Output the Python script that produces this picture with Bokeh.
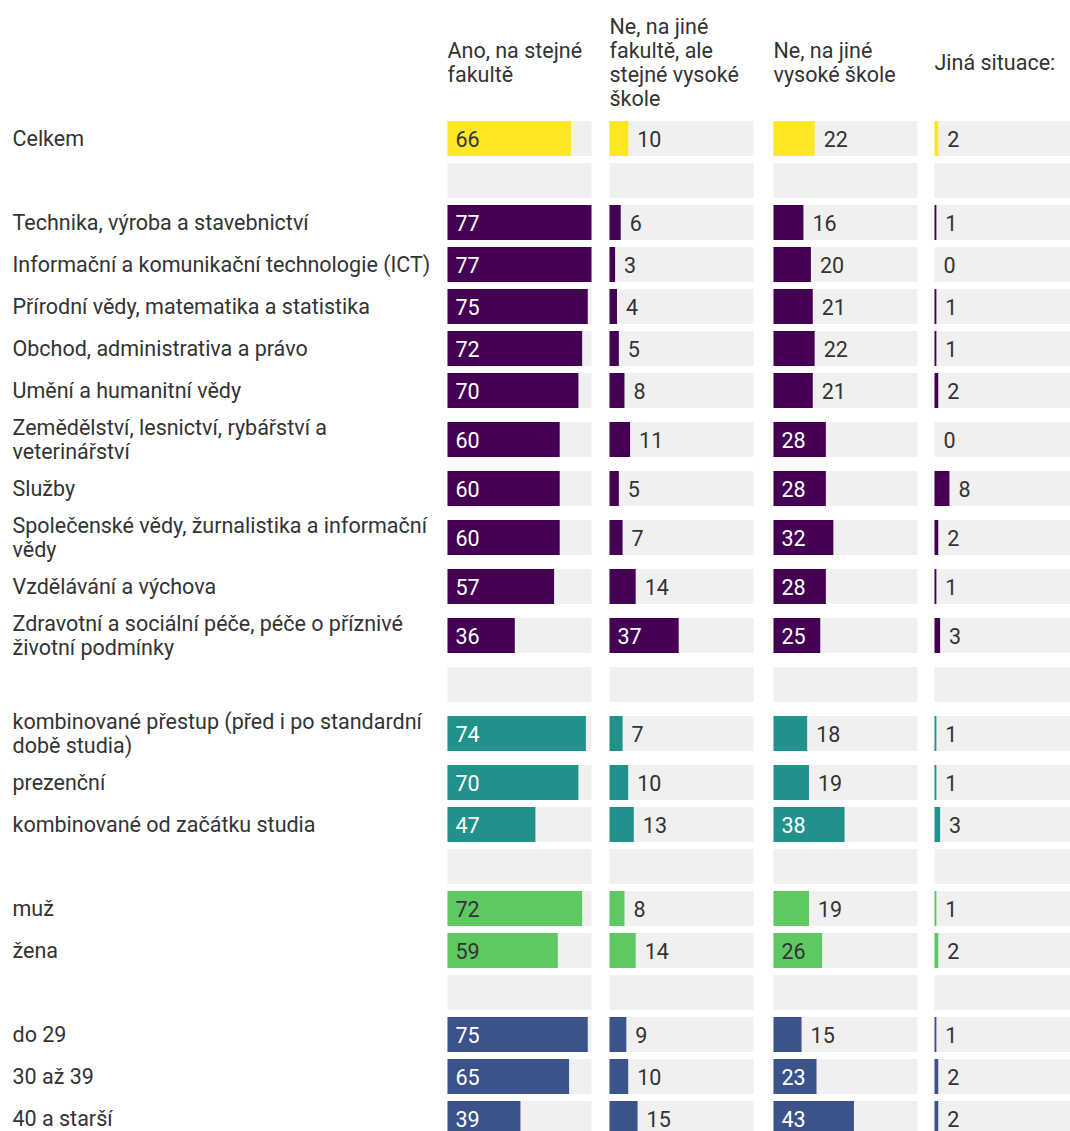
from bokeh.plotting import figure
from bokeh.models import ColumnDataSource, Range1d
from bokeh.embed import file_html
from bokeh.resources import INLINE
from bokeh.core.properties import value

# ---------------- data ----------------
column_titles = [
    "Ano, na stejné\nfakultě",
    "Ne, na jiné\nfakultě, ale\nstejné vysoké\nškole",
    "Ne, na jiné\nvysoké škole",
    "Jiná situace:",
]

total_labels = ["Celkem"]
total_values = [[66, 10, 22, 2]]

field_labels = [
    "Technika, výroba a stavebnictví",
    "Informační a komunikační technologie (ICT)",
    "Přírodní vědy, matematika a statistika",
    "Obchod, administrativa a právo",
    "Umění a humanitní vědy",
    "Zemědělství, lesnictví, rybářství a\nveterinářství",
    "Služby",
    "Společenské vědy, žurnalistika a informační\nvědy",
    "Vzdělávání a výchova",
    "Zdravotní a sociální péče, péče o příznivé\nživotní podmínky",
]
field_values = [
    [77, 6, 16, 1],
    [77, 3, 20, 0],
    [75, 4, 21, 1],
    [72, 5, 22, 1],
    [70, 8, 21, 2],
    [60, 11, 28, 0],
    [60, 5, 28, 8],
    [60, 7, 32, 2],
    [57, 14, 28, 1],
    [36, 37, 25, 3],
]

form_labels = [
    "kombinované přestup (před i po standardní\ndobě studia)",
    "prezenční",
    "kombinované od začátku studia",
]
form_values = [
    [74, 7, 18, 1],
    [70, 10, 19, 1],
    [47, 13, 38, 3],
]

sex_labels = ["muž", "žena"]
sex_values = [
    [72, 8, 19, 1],
    [59, 14, 26, 2],
]

age_labels = ["do 29", "30 až 39", "40 a starší"]
age_values = [
    [75, 9, 15, 1],
    [65, 10, 23, 2],
    [39, 15, 43, 2],
]

# ---------------- styles / layout ----------------
groups = [
    (total_labels, total_values, "#FDE725", "#333333"),
    (field_labels, field_values, "#440154", "#ffffff"),
    (form_labels, form_values, "#21918C", "#ffffff"),
    (sex_labels, sex_values, "#5EC962", "#333333"),
    (age_labels, age_values, "#3B528B", "#ffffff"),
]

FONT = "Roboto"
FS = "21.5px"
LH = 0.95
TEXT_COLOR = "#333333"
BG_COLOR = "#f0f0f0"
col_x0 = [447, 609, 773, 934]
col_w = 144.0
scale_max = 77.0
bar_h = 35
row_h1 = 42
row_extra = 14
inside_min = 23

W, H = 1070, 1131
p = figure(width=W, height=H, output_backend="svg", toolbar_location=None,
           x_range=Range1d(0, W), y_range=Range1d(H, 0),
           x_axis_location=None, y_axis_location=None, min_border=0)
p.grid.visible = False
p.outline_line_color = None
p.background_fill_color = "white"
p.border_fill_color = "white"

# rows
rows = []  # (label, values, color, inside_text_color)
for gi, (labs, vals, col, tcol) in enumerate(groups):
    if gi > 0:
        rows.append(("", None, None, None))
    for l, v in zip(labs, vals):
        rows.append((l, v, col, tcol))

y = 117
bg = dict(left=[], right=[], y=[])
bars = dict(left=[], right=[], y=[], color=[])
vlab = dict(x=[], y=[], text=[], color=[])
rlab = dict(x=[], y=[], text=[])
for label, vals, col, tcol in rows:
    n_lines = label.count("\n") + 1 if label else 1
    h = row_h1 + row_extra * (n_lines - 1)
    yc = y + h / 2
    for ci in range(4):
        bg["left"].append(col_x0[ci])
        bg["right"].append(col_x0[ci] + col_w)
        bg["y"].append(yc)
    if vals is not None:
        rlab["x"].append(12)
        rlab["y"].append(yc)
        rlab["text"].append(label)
        for ci, v in enumerate(vals):
            w = v / scale_max * col_w
            bars["left"].append(col_x0[ci])
            bars["right"].append(col_x0[ci] + w)
            bars["y"].append(yc)
            bars["color"].append(col)
            vlab["text"].append(str(v))
            vlab["y"].append(yc)
            if v >= inside_min:
                vlab["x"].append(col_x0[ci] + 8)
                vlab["color"].append(tcol)
            else:
                vlab["x"].append(col_x0[ci] + w + 9)
                vlab["color"].append(TEXT_COLOR)
    y += h

p.hbar(y="y", left="left", right="right", height=bar_h, source=ColumnDataSource(bg),
       fill_color=BG_COLOR, line_color=None)
p.hbar(y="y", left="left", right="right", height=bar_h, source=ColumnDataSource(bars),
       fill_color="color", line_color=None)
p.text(x="x", y="y", text="text", source=ColumnDataSource(vlab), text_color="color",
       text_font=value(FONT), text_font_size=FS, text_baseline="middle", text_align="left")
p.text(x="x", y="y", text="text", source=ColumnDataSource(rlab), text_color=TEXT_COLOR,
       text_font=value(FONT), text_font_size=FS, text_baseline="middle", text_align="left",
       text_line_height=LH)

hdr = dict(x=[c for c in col_x0], y=[62] * 4, text=column_titles)
p.text(x="x", y="y", text="text", source=ColumnDataSource(hdr), text_color=TEXT_COLOR,
       text_font=value(FONT), text_font_size=FS, text_baseline="middle", text_align="left",
       text_line_height=LH)

open("out.html", "w").write(file_html(p, INLINE))
